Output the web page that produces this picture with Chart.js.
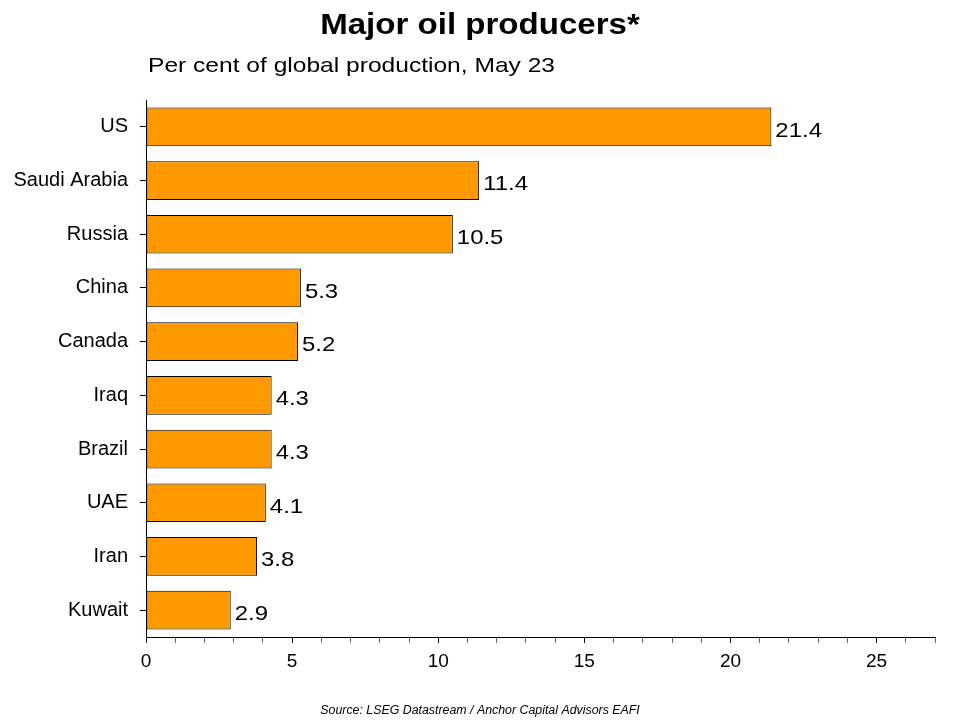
<!DOCTYPE html>
<html>
<head>
<meta charset="utf-8">
<script src="https://cdn.jsdelivr.net/npm/chart.js@4/dist/chart.umd.min.js"></script>
<style>
  html, body { margin: 0; padding: 0; background: #fff; }
  #wrap { width: 960px; height: 720px; }
</style>
</head>
<body>
<div id="wrap"><canvas id="oilChart"></canvas></div>
<script>
const countries = ['US', 'Saudi Arabia', 'Russia', 'China', 'Canada', 'Iraq', 'Brazil', 'UAE', 'Iran', 'Kuwait'];
const shares = [21.4, 11.4, 10.5, 5.3, 5.2, 4.3, 4.3, 4.1, 3.8, 2.9];
const xTicks = [0, 5, 10, 15, 20, 25];

const font = '"Liberation Sans", Arial, sans-serif';

// draw text stretched a bit wider, the reference type runs wide
function wideText(ctx, txt, x, y, sx) {
    ctx.save();
    ctx.translate(x, y);
    ctx.scale(sx, 1);
    ctx.fillText(txt, 0, 0);
    ctx.restore();
}

// titles, subtitle and source line
const textPlugin = {
    id: 'texts',
    afterDraw(chart) {
        const ctx = chart.ctx;
        ctx.save();
        ctx.fillStyle = '#000';
        ctx.textBaseline = 'middle';
        ctx.textAlign = 'center';
        ctx.font = 'bold 29px ' + font;
        wideText(ctx, 'Major oil producers*', 480, 26, 1.14);
        ctx.textAlign = 'left';
        ctx.font = '21px ' + font;
        wideText(ctx, 'Per cent of global production, May 23', 148, 66, 1.17);
        ctx.textAlign = 'center';
        ctx.font = 'italic 12px ' + font;
        wideText(ctx, 'Source: LSEG Datastream / Anchor Capital Advisors EAFI', 480, 711, 1.03);
        ctx.restore();
    }
};

// value labels at the end of each bar
const valueLabels = {
    id: 'valueLabels',
    afterDatasetsDraw(chart) {
        const ctx = chart.ctx;
        const meta = chart.getDatasetMeta(0);
        ctx.save();
        ctx.fillStyle = '#000';
        ctx.font = '21px ' + font;
        ctx.textAlign = 'left';
        ctx.textBaseline = 'middle';
        meta.data.forEach((bar, i) => {
            wideText(ctx, shares[i].toFixed(1), bar.x + 4, bar.y + 4, 1.14);
        });
        ctx.restore();
    }
};

const config = {
    type: 'bar',
    data: {
        labels: countries,
        datasets: [{
            data: shares,
            backgroundColor: '#FF9900',
            borderColor: '#000',
            borderWidth: 1,
            borderSkipped: false,
            barPercentage: 0.72,
            categoryPercentage: 1
        }]
    },
    options: {
        indexAxis: 'y',
        responsive: true,
        maintainAspectRatio: false,
        animation: false,
        layout: {
            padding: { top: 100, right: 25, bottom: 43, left: 0 }
        },
        plugins: {
            legend: { display: false },
            tooltip: { enabled: false }
        },
        scales: {
            x: {
                min: 0,
                max: 27,
                afterFit(scale) { scale.height = 40; },
                afterBuildTicks(scale) {
                    const t = [];
                    for (let v = 0; v <= 27; v++) t.push({ value: v });
                    scale.ticks = t;
                },
                border: { display: true, color: '#000', width: 1 },
                grid: {
                    drawOnChartArea: false,
                    drawTicks: true,
                    tickLength: 6,
                    color: '#000',
                    lineWidth: (c) => (c.tick && xTicks.includes(c.tick.value)) ? 1 : 0.6
                },
                ticks: {
                    autoSkip: false,
                    maxRotation: 0,
                    color: '#000',
                    padding: 7,
                    font: { family: font, size: 19 },
                    callback: (v) => xTicks.includes(v) ? String(v) : ''
                }
            },
            y: {
                afterFit(scale) { scale.width = 146; },
                border: { display: true, color: '#000', width: 1 },
                grid: {
                    drawOnChartArea: false,
                    drawTicks: true,
                    tickLength: 6,
                    color: '#000',
                    offset: false
                },
                ticks: {
                    color: '#000',
                    padding: 12,
                    font: { family: font, size: 20 }
                }
            }
        }
    },
    plugins: [textPlugin, valueLabels]
};

const chart = new Chart(document.getElementById('oilChart'), config);
</script>
</body>
</html>
